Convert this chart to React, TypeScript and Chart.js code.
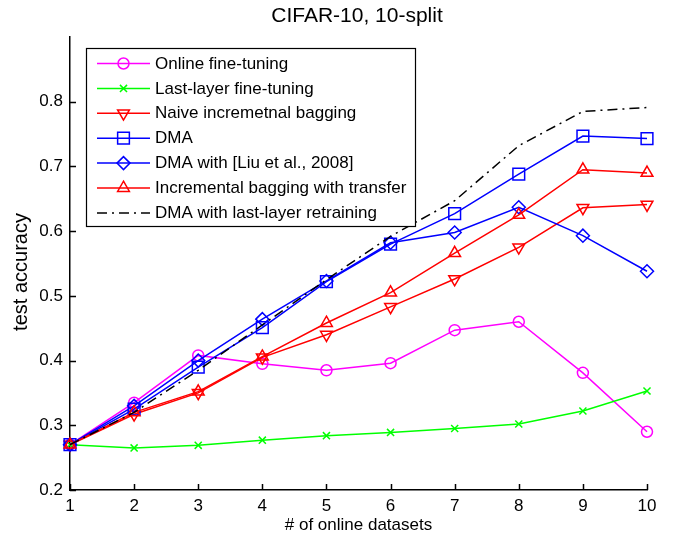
import React, { useEffect, useRef } from 'react';
import { Chart, registerables } from 'chart.js';
import { drawPoint } from 'chart.js/helpers';

Chart.register(...registerables);

const FONT = 'Arial, "Liberation Sans", Helvetica, sans-serif';

const titleText = 'CIFAR-10, 10-split';
const xTitle = '# of online datasets';
const yTitle = 'test accuracy';

const categories = ['1', '2', '3', '4', '5', '6', '7', '8', '9', '10'];
const yTickValues = [0.2, 0.3, 0.4, 0.5, 0.6, 0.7, 0.8];

const onlineFineTuning = [0.27, 0.335, 0.408, 0.395, 0.385, 0.396, 0.447, 0.46, 0.381, 0.29];
const lastLayerFineTuning = [0.27, 0.265, 0.269, 0.277, 0.284, 0.289, 0.295, 0.302, 0.322, 0.353];
const naiveBagging = [0.27, 0.317, 0.35, 0.405, 0.44, 0.483, 0.526, 0.575, 0.636, 0.641];
const dma = [0.27, 0.325, 0.39, 0.451, 0.522, 0.58, 0.627, 0.688, 0.747, 0.743];
const dmaLiu = [0.27, 0.33, 0.4, 0.464, 0.523, 0.582, 0.598, 0.637, 0.593, 0.538];
const incBaggingTransfer = [0.27, 0.32, 0.352, 0.406, 0.458, 0.505, 0.566, 0.625, 0.695, 0.69];
const dmaLastLayer = [0.27, 0.32, 0.385, 0.455, 0.525, 0.592, 0.647, 0.732, 0.785, 0.791];

const seriesNames = [
  'Online fine-tuning',
  'Last-layer fine-tuning',
  'Naive incremetnal bagging',
  'DMA',
  'DMA with [Liu et al., 2008]',
  'Incremental bagging with transfer',
  'DMA with last-layer retraining',
];
const seriesData = [onlineFineTuning, lastLayerFineTuning, naiveBagging, dma, dmaLiu, incBaggingTransfer, dmaLastLayer];
const seriesColors = ['#ff00ff', '#00ff00', '#ff0000', '#0000ff', '#0000ff', '#ff0000', '#000000'];
const seriesMarkers = ['circle', 'crossRot', 'triangle', 'rect', 'rectRot', 'triangle', 'circle'];
const seriesRotation = [0, 0, 180, 0, 0, 0, 0];
const seriesRadius = [5.5, 5, 6.8, 8.3, 6.5, 6.8, 0];
const seriesDash = [[], [], [], [], [], [], [10, 5, 2, 5]];

const textDecor = {
  id: 'textDecor',
  afterDraw(chart: any) {
    const { ctx } = chart;
    const xs = chart.scales.x;
    const ys = chart.scales.y;
    ctx.save();
    ctx.fillStyle = '#000';
    // title
    ctx.font = `21px ${FONT}`;
    ctx.textAlign = 'center';
    ctx.textBaseline = 'middle';
    ctx.fillText(titleText, 357, 16);
    // y-axis title
    ctx.translate(21, 272);
    ctx.rotate(-Math.PI / 2);
    ctx.font = `20px ${FONT}`;
    ctx.fillText(yTitle, 0, 0);
    ctx.restore();

    // inside tick marks
    ctx.save();
    ctx.strokeStyle = '#000';
    ctx.lineWidth = 1.5;
    ctx.beginPath();
    ys.ticks.forEach((t: any) => {
      const py = Math.round(ys.getPixelForValue(t.value)) + 0.5;
      ctx.moveTo(xs.left, py);
      ctx.lineTo(xs.left + 6, py);
    });
    xs.ticks.forEach((_t: any, i: number) => {
      const px = Math.round(xs.getPixelForTick(i)) + 0.5;
      ctx.moveTo(px, ys.bottom);
      ctx.lineTo(px, ys.bottom - 6);
    });
    ctx.stroke();
    ctx.restore();
  },
};

const insideLegend = {
  id: 'insideLegend',
  afterDraw(chart: any) {
    const { ctx } = chart;
    const bx = 86.5, by = 48.5, bw = 329, bh = 178;
    ctx.save();
    ctx.fillStyle = '#fff';
    ctx.fillRect(bx, by, bw, bh);
    ctx.strokeStyle = '#000';
    ctx.lineWidth = 1.2;
    ctx.strokeRect(bx, by, bw, bh);
    chart.data.datasets.forEach((ds: any, i: number) => {
      const cy = 63.5 + i * 24.9;
      ctx.strokeStyle = ds.borderColor;
      ctx.lineWidth = 1.5;
      ctx.setLineDash(ds.borderDash || []);
      ctx.beginPath();
      ctx.moveTo(97, cy);
      ctx.lineTo(150, cy);
      ctx.stroke();
      ctx.setLineDash([]);
      if (ds.pointRadius > 0) {
        ctx.fillStyle = 'rgba(0,0,0,0)';
        drawPoint(ctx, { pointStyle: ds.pointStyle, rotation: ds.pointRotation || 0, radius: ds.pointRadius, borderWidth: 1.5 } as any, 123.5, cy);
      }
      ctx.fillStyle = '#000';
      ctx.font = `17px ${FONT}`;
      ctx.textAlign = 'left';
      ctx.textBaseline = 'middle';
      ctx.fillText(ds.label, 155, cy + 0.5);
    });
    ctx.restore();
  },
};

export default function App() {
  const ref = useRef<HTMLCanvasElement | null>(null);

  useEffect(() => {
    if (!ref.current) return;
    const datasets = seriesNames.map((name, i) => ({
      label: name,
      data: seriesData[i],
      borderColor: seriesColors[i],
      backgroundColor: 'rgba(0,0,0,0)',
      pointBackgroundColor: 'rgba(0,0,0,0)',
      pointBorderColor: seriesColors[i],
      pointStyle: seriesMarkers[i],
      pointRotation: seriesRotation[i],
      pointRadius: seriesRadius[i],
      pointBorderWidth: 1.5,
      borderWidth: 1.5,
      borderDash: seriesDash[i],
      tension: 0,
      fill: false,
      order: seriesNames.length - 1 - i,
    }));
    const chart = new Chart(ref.current, {
      type: 'line',
      data: { labels: categories, datasets },
      options: {
        animation: false,
        responsive: false,
        maintainAspectRatio: false,
        devicePixelRatio: 1,
        layout: { padding: { left: 0, right: 26, top: 37, bottom: 0 } },
        plugins: {
          legend: { display: false },
          tooltip: { enabled: false },
          title: { display: false },
        },
        scales: {
          x: {
            type: 'category',
            offset: false,
            grid: { display: false, drawTicks: false },
            border: { display: true, color: '#000', width: 1.5 },
            ticks: { color: '#000', font: { family: FONT, size: 17 }, padding: 6, autoSkip: false, maxRotation: 0 },
            title: {
              display: true,
              text: xTitle,
              color: '#000',
              font: { family: FONT, size: 17 },
              padding: { top: 0, bottom: 3 },
            },
            afterFit: (s: any) => { s.height = 49; },
          },
          y: {
            type: 'linear',
            min: 0.2,
            max: 0.9,
            grid: { display: false, drawTicks: false },
            border: { display: true, color: '#000', width: 1.5 },
            ticks: {
              color: '#000',
              font: { family: FONT, size: 17 },
              padding: 7,
              callback: (v: any) => Number(v).toFixed(1),
            },
            afterBuildTicks: (s: any) => { s.ticks = yTickValues.map((v) => ({ value: v })); },
            title: { display: false },
            afterFit: (s: any) => { s.width = 70; },
          },
        },
      },
      plugins: [textDecor, insideLegend],
    });
    return () => chart.destroy();
  }, []);

  return (
    <div style={{ position: 'fixed', left: 0, top: 0, width: 673, height: 539, background: '#fff' }}>
      <canvas ref={ref} width={673} height={539} style={{ width: 673, height: 539, display: 'block' }} />
    </div>
  );
}
